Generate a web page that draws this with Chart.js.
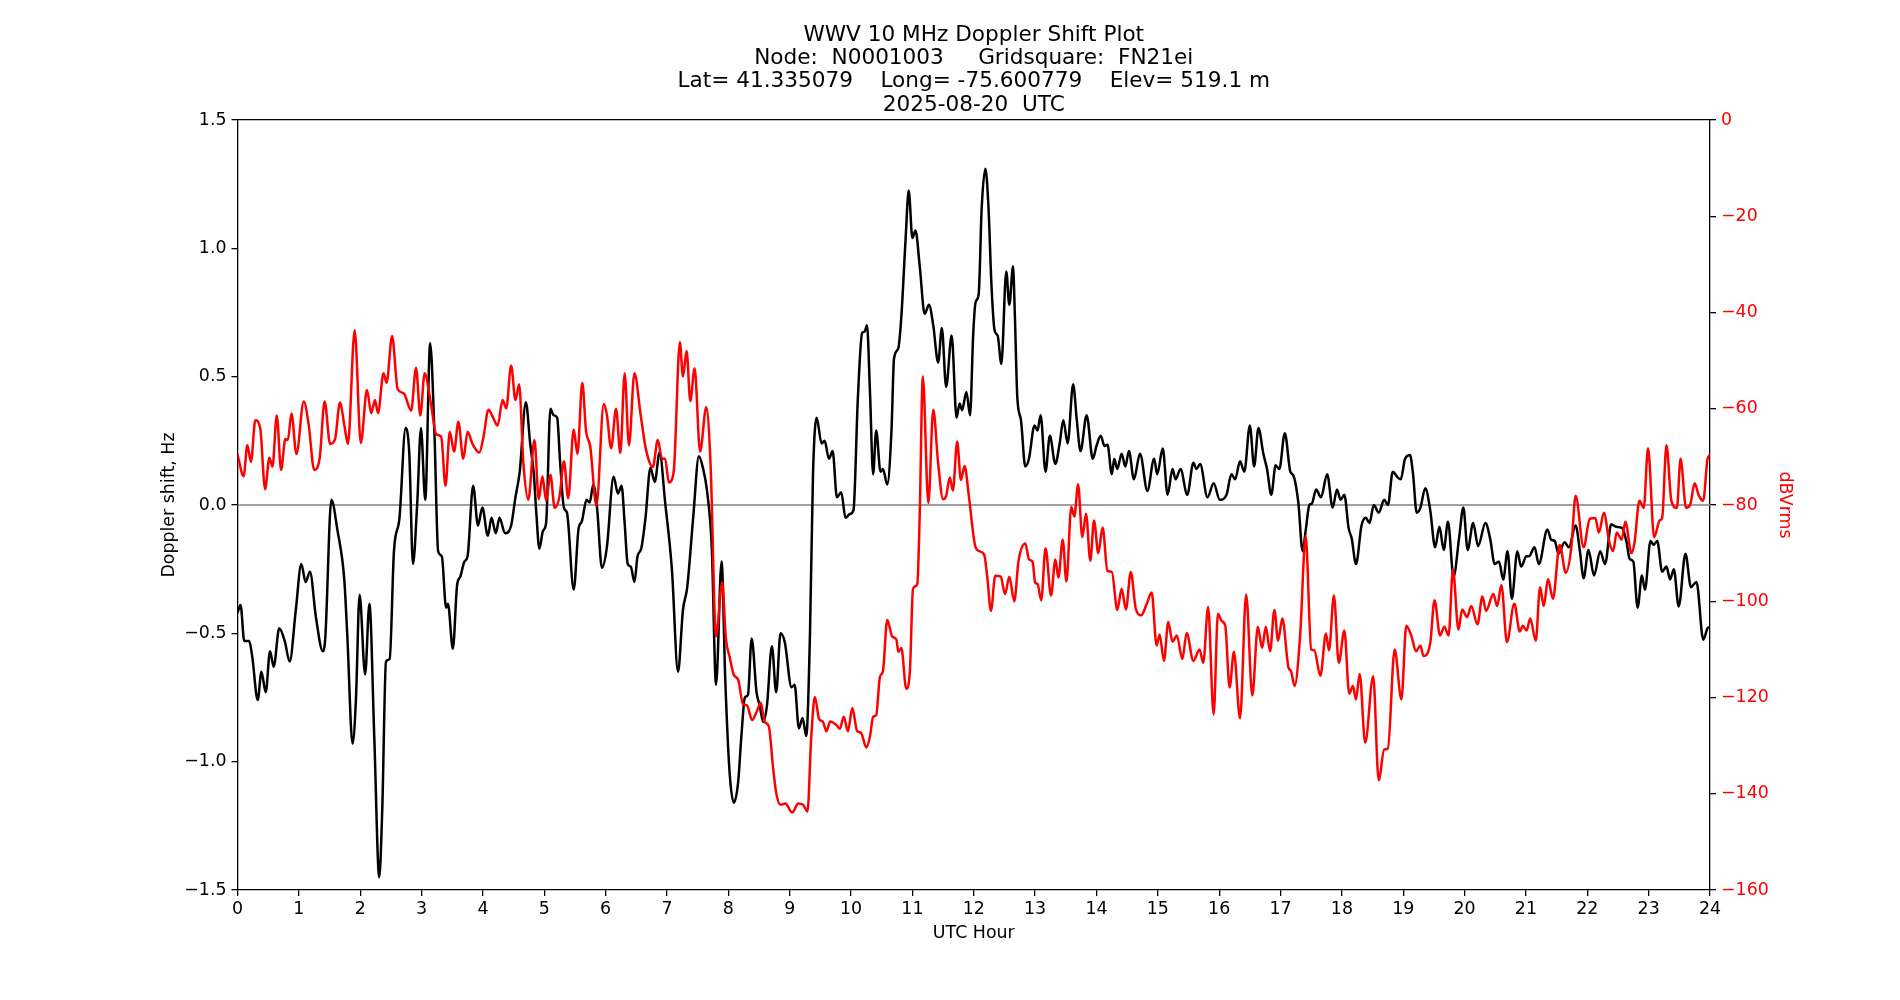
<!DOCTYPE html>
<html>
<head>
<meta charset="utf-8">
<title>WWV 10 MHz Doppler Shift Plot</title>
<script src="https://cdn.jsdelivr.net/npm/chart.js@4.4.1/dist/chart.umd.min.js"></script>
<style>
  html, body { margin: 0; padding: 0; background: #fff; }
  canvas { display: block; }
</style>
</head>
<body>
<canvas id="chart" width="1900" height="1000"></canvas>
<script>
const titleLines = [
  "WWV 10 MHz Doppler Shift Plot",
  "Node:  N0001003     Gridsquare:  FN21ei",
  "Lat= 41.335079    Long= -75.600779    Elev= 519.1 m",
  "2025-08-20  UTC"
];

// Doppler shift (Hz)
const dopplerHours = [
  0.00, 0.05, 0.11, 0.19, 0.24, 0.33, 0.39, 0.46, 0.53, 0.59, 0.68, 0.77, 0.85, 0.95, 1.04, 1.11, 1.18, 1.28, 1.39, 1.43,
  1.53, 1.63, 1.74, 1.79, 1.875, 1.93, 1.99, 2.08, 2.15, 2.23, 2.31, 2.36, 2.42, 2.48, 2.55, 2.64, 2.74, 2.80, 2.86, 2.93,
  2.99, 3.06, 3.14, 3.21, 3.27, 3.33, 3.40, 3.43, 3.51, 3.58, 3.63, 3.70, 3.75, 3.84, 3.92, 3.99, 4.08, 4.14, 4.21, 4.27,
  4.36, 4.46, 4.53, 4.60, 4.70, 4.77, 4.83, 4.87, 4.92, 4.98, 5.03, 5.10, 5.15, 5.21, 5.26, 5.32, 5.37, 5.48, 5.56, 5.61,
  5.69, 5.74, 5.80, 5.86, 5.94, 6.02, 6.13, 6.20, 6.26, 6.31, 6.36, 6.41, 6.47, 6.52, 6.58, 6.65, 6.73, 6.80, 6.88, 6.97,
  7.08, 7.18, 7.26, 7.33, 7.43, 7.52, 7.59, 7.65, 7.73, 7.80, 7.89, 7.95, 8.02, 8.09, 8.16, 8.21, 8.27, 8.32, 8.38, 8.46,
  8.51, 8.57, 8.63, 8.71, 8.78, 8.85, 8.92, 9.03, 9.08, 9.15, 9.21, 9.27, 9.33, 9.38, 9.44, 9.52, 9.57, 9.64, 9.70, 9.77,
  9.84, 9.91, 9.98, 10.04, 10.11, 10.18, 10.22, 10.26, 10.31, 10.36, 10.41, 10.48, 10.52, 10.59, 10.66, 10.70, 10.77, 10.82, 10.89, 10.94,
  11.00, 11.05, 11.12, 11.20, 11.27, 11.34, 11.42, 11.48, 11.55, 11.64, 11.72, 11.77, 11.81, 11.88, 11.94, 11.99, 12.03, 12.08, 12.13, 12.19,
  12.24, 12.29, 12.34, 12.39, 12.45, 12.53, 12.58, 12.64, 12.67, 12.71, 12.77, 12.84, 12.90, 12.99, 13.04, 13.09, 13.17, 13.24, 13.33, 13.40,
  13.46, 13.53, 13.62, 13.68, 13.74, 13.84, 13.94, 14.00, 14.07, 14.13, 14.18, 14.25, 14.29, 14.34, 14.41, 14.47, 14.53, 14.61, 14.71, 14.83,
  14.94, 14.99, 15.08, 15.16, 15.24, 15.29, 15.37, 15.48, 15.58, 15.63, 15.69, 15.81, 15.91, 16.01, 16.12, 16.20, 16.26, 16.34, 16.41, 16.50,
  16.57, 16.64, 16.72, 16.78, 16.85, 16.92, 16.98, 17.07, 17.16, 17.21, 17.29, 17.36, 17.41, 17.47, 17.51, 17.58, 17.66, 17.76, 17.85, 17.92,
  17.98, 18.04, 18.11, 18.16, 18.23, 18.32, 18.39, 18.45, 18.52, 18.60, 18.69, 18.75, 18.83, 18.90, 18.96, 19.03, 19.11, 19.16, 19.22, 19.28,
  19.36, 19.44, 19.52, 19.59, 19.66, 19.73, 19.82, 19.91, 19.98, 20.05, 20.14, 20.22, 20.34, 20.42, 20.49, 20.56, 20.63, 20.70, 20.77, 20.86,
  20.92, 21.01, 21.05, 21.14, 21.21, 21.35, 21.41, 21.47, 21.53, 21.63, 21.70, 21.81, 21.88, 21.94, 22.02, 22.11, 22.21, 22.29, 22.39, 22.47,
  22.57, 22.64, 22.69, 22.75, 22.82, 22.89, 22.94, 23.03, 23.08, 23.14, 23.22, 23.29, 23.35, 23.41, 23.49, 23.60, 23.69, 23.78, 23.89, 23.96,
  24.00
];
const dopplerHz = [
  -0.42, -0.39, -0.53, -0.53, -0.59, -0.76, -0.65, -0.73, -0.57, -0.63, -0.48, -0.53, -0.61, -0.41, -0.23, -0.30, -0.26, -0.44, -0.57, -0.52,
  0.02, -0.10, -0.29, -0.51, -0.93, -0.76, -0.35, -0.66, -0.385, -0.91, -1.45, -1.18, -0.61, -0.60, -0.18, -0.05, 0.30, 0.20, -0.23, 0.01,
  0.30, 0.02, 0.63, 0.28, -0.18, -0.20, -0.40, -0.385, -0.56, -0.31, -0.28, -0.22, -0.20, 0.075, -0.08, -0.01, -0.12, -0.05, -0.11, -0.05,
  -0.11, -0.08, 0.03, 0.13, 0.40, 0.24, 0.12, -0.03, -0.17, -0.10, -0.07, 0.375, 0.35, 0.34, 0.16, -0.01, -0.03, -0.33, -0.09, -0.065,
  0.02, 0.01, 0.08, -0.01, -0.245, -0.165, 0.11, 0.045, 0.075, -0.07, -0.23, -0.24, -0.30, -0.20, -0.17, -0.05, 0.145, 0.09, 0.205, 0.01,
  -0.25, -0.65, -0.41, -0.32, -0.04, 0.19, 0.14, 0.06, -0.165, -0.70, -0.22, -0.68, -1.04, -1.16, -1.08, -0.91, -0.75, -0.74, -0.52, -0.73,
  -0.78, -0.845, -0.78, -0.55, -0.73, -0.50, -0.535, -0.71, -0.70, -0.87, -0.83, -0.90, -0.51, 0.12, 0.34, 0.24, 0.25, 0.18, 0.21, 0.03,
  0.05, -0.05, -0.035, -0.02, 0.41, 0.67, 0.675, 0.70, 0.43, 0.12, 0.29, 0.13, 0.14, 0.08, 0.295, 0.57, 0.61, 0.735, 1.04, 1.225,
  1.04, 1.07, 0.93, 0.745, 0.78, 0.70, 0.555, 0.69, 0.46, 0.66, 0.34, 0.395, 0.37, 0.44, 0.35, 0.66, 0.79, 0.82, 1.16, 1.31,
  1.16, 0.85, 0.68, 0.66, 0.55, 0.91, 0.78, 0.93, 0.74, 0.42, 0.33, 0.15, 0.18, 0.31, 0.29, 0.35, 0.13, 0.27, 0.16, 0.24,
  0.33, 0.24, 0.47, 0.33, 0.21, 0.35, 0.18, 0.23, 0.27, 0.23, 0.235, 0.12, 0.18, 0.14, 0.20, 0.15, 0.21, 0.10, 0.20, 0.055,
  0.18, 0.12, 0.22, 0.04, 0.14, 0.10, 0.14, 0.04, 0.165, 0.14, 0.16, 0.03, 0.085, 0.02, 0.04, 0.12, 0.10, 0.17, 0.13, 0.31,
  0.15, 0.30, 0.20, 0.14, 0.04, 0.155, 0.14, 0.28, 0.13, 0.115, 0.01, -0.18, -0.10, 0.00, 0.005, 0.06, 0.03, 0.12, -0.01, 0.06,
  0.02, 0.04, -0.09, -0.13, -0.23, -0.08, -0.05, -0.07, 0.00, -0.03, 0.02, 0.00, 0.13, 0.11, 0.10, 0.18, 0.195, 0.12, -0.03, -0.01,
  0.065, -0.02, -0.165, -0.085, -0.175, -0.065, -0.28, -0.13, -0.01, -0.175, -0.07, -0.16, -0.07, -0.135, -0.23, -0.22, -0.29, -0.18, -0.365, -0.18,
  -0.24, -0.20, -0.20, -0.165, -0.23, -0.095, -0.135, -0.14, -0.19, -0.145, -0.165, -0.08, -0.18, -0.285, -0.175, -0.275, -0.18, -0.23, -0.075, -0.085,
  -0.09, -0.145, -0.21, -0.22, -0.40, -0.275, -0.33, -0.14, -0.155, -0.14, -0.26, -0.24, -0.29, -0.25, -0.395, -0.19, -0.32, -0.30, -0.525, -0.48,
  -0.475
];

// Signal level (dBVrms)
const powerHours = [
  0.00, 0.10, 0.16, 0.22, 0.29, 0.37, 0.45, 0.52, 0.57, 0.64, 0.71, 0.78, 0.82, 0.88, 0.96, 1.08, 1.16, 1.25, 1.34, 1.42,
  1.51, 1.59, 1.67, 1.74, 1.80, 1.91, 2.01, 2.11, 2.18, 2.24, 2.29, 2.38, 2.43, 2.52, 2.61, 2.71, 2.83, 2.91, 2.98, 3.05,
  3.15, 3.24, 3.32, 3.39, 3.46, 3.53, 3.60, 3.68, 3.75, 3.83, 3.94, 4.01, 4.09, 4.16, 4.24, 4.32, 4.38, 4.46, 4.53, 4.59,
  4.66, 4.74, 4.84, 4.91, 4.97, 5.03, 5.10, 5.17, 5.25, 5.32, 5.39, 5.48, 5.54, 5.62, 5.68, 5.75, 5.85, 5.97, 6.02, 6.09,
  6.17, 6.24, 6.31, 6.38, 6.47, 6.57, 6.66, 6.77, 6.85, 6.92, 6.97, 7.03, 7.11, 7.21, 7.26, 7.32, 7.38, 7.45, 7.54, 7.64,
  7.71, 7.80, 7.90, 7.96, 8.02, 8.09, 8.16, 8.24, 8.30, 8.39, 8.46, 8.53, 8.59, 8.66, 8.73, 8.78, 8.85, 8.93, 9.04, 9.14,
  9.22, 9.29, 9.35, 9.41, 9.48, 9.54, 9.60, 9.66, 9.76, 9.82, 9.88, 9.95, 10.02, 10.10, 10.16, 10.25, 10.31, 10.36, 10.41, 10.47,
  10.52, 10.59, 10.67, 10.74, 10.77, 10.82, 10.90, 10.96, 11.01, 11.08, 11.12, 11.17, 11.26, 11.34, 11.42, 11.50, 11.55, 11.61, 11.66, 11.73,
  11.79, 11.85, 11.92, 12.02, 12.09, 12.17, 12.22, 12.28, 12.35, 12.44, 12.51, 12.58, 12.66, 12.73, 12.84, 12.90, 12.96, 13.00, 13.04, 13.10,
  13.17, 13.26, 13.33, 13.38, 13.45, 13.51, 13.59, 13.64, 13.70, 13.77, 13.83, 13.90, 13.96, 14.03, 14.10, 14.18, 14.25, 14.34, 14.41, 14.48,
  14.56, 14.64, 14.73, 14.82, 14.90, 14.98, 15.03, 15.10, 15.17, 15.24, 15.31, 15.40, 15.47, 15.58, 15.68, 15.74, 15.82, 15.91, 15.98, 16.04,
  16.10, 16.17, 16.24, 16.34, 16.44, 16.54, 16.63, 16.70, 16.76, 16.83, 16.90, 16.96, 17.03, 17.13, 17.17, 17.23, 17.32, 17.41, 17.50, 17.55,
  17.65, 17.74, 17.79, 17.87, 17.95, 18.04, 18.12, 18.18, 18.23, 18.29, 18.38, 18.51, 18.60, 18.69, 18.75, 18.86, 18.97, 19.05, 19.13, 19.21,
  19.28, 19.33, 19.44, 19.51, 19.60, 19.67, 19.74, 19.81, 19.90, 19.96, 20.04, 20.11, 20.21, 20.29, 20.35, 20.47, 20.53, 20.60, 20.69, 20.81,
  20.90, 20.95, 21.01, 21.07, 21.16, 21.23, 21.29, 21.36, 21.44, 21.55, 21.65, 21.74, 21.81, 21.94, 22.04, 22.13, 22.19, 22.27, 22.36, 22.42,
  22.48, 22.56, 22.62, 22.72, 22.77, 22.85, 22.92, 22.99, 23.09, 23.18, 23.22, 23.29, 23.37, 23.46, 23.52, 23.61, 23.68, 23.75, 23.82, 23.89,
  23.96, 24.00
];
const powerDb = [
  -69.5, -74, -67.6, -71, -62.4, -64, -76.7, -70.2, -72, -61.4, -72.7, -66.3, -66.5, -61, -69.4, -58.5, -63.3, -72.7, -70.2, -58.5,
  -67.3, -66.3, -58.7, -63.3, -67.3, -43.7, -67.1, -56.1, -60.9, -58.2, -60.9, -52.6, -54.6, -44.9, -55.9, -56.8, -60.4, -51.5, -61.4, -52.6,
  -58.7, -65.3, -65.8, -76, -64.8, -68.9, -62.7, -70.4, -64.8, -67.3, -69.1, -65.8, -60.2, -61.7, -63.5, -58.2, -59.9, -51, -58.2, -54.9,
  -71.4, -78.9, -66.5, -78.8, -74, -79.1, -73.7, -80.6, -78.1, -70.9, -78.6, -64.3, -69.4, -54.6, -64.5, -67.9, -80.1, -59, -61.2, -68.2,
  -60, -69.2, -52.6, -67.6, -52.6, -61.2, -68.6, -72.1, -66.5, -70.4, -70.4, -75.3, -73, -46.2, -53.3, -48, -58.4, -51.6, -68.9, -59.7,
  -71.4, -107.3, -96.1, -107.7, -111.5, -115.3, -116.3, -121.4, -121.6, -124.7, -123, -121.1, -125, -126, -134.7, -139.8, -142.3, -142, -143.9, -142,
  -142.3, -143.7, -128.6, -119.9, -124.5, -125, -127, -125, -125.7, -126.5, -124, -127, -122.2, -127, -127.3, -130.4, -128, -124, -123.7, -115.8,
  -114.5, -103.9, -107.3, -108, -110.5, -109.7, -118.2, -114.3, -97.4, -96.4, -81.6, -53.3, -79.6, -60.2, -71.4, -78.8, -78.1, -74.3, -77, -66.8,
  -74.8, -71.9, -78.1, -88.3, -89.6, -90.3, -94.9, -102, -94.7, -94.9, -98.5, -94.9, -100, -91.6, -88, -91.3, -91.8, -96.1, -96.4, -99.8,
  -89, -98.8, -91.3, -95.1, -87.2, -95.9, -80.4, -82.4, -75.7, -86.7, -81.8, -91.6, -83.2, -90, -84.7, -93.7, -93.9, -101.8, -97.4, -101.7,
  -93.9, -101.5, -102.9, -100.5, -98.2, -109.2, -106.9, -112.4, -104.3, -108.4, -107.1, -112, -106.6, -112.4, -110, -112.8, -101.2, -123.5, -102.6, -104.1,
  -105.1, -117.9, -110.5, -124.3, -98.6, -119.6, -105.3, -109.7, -105.3, -110.4, -101.8, -108.2, -103.6, -113.8, -114.5, -117.6, -107.1, -86.5, -110, -110.2,
  -115.5, -106.7, -110.2, -98.8, -112.8, -106.1, -119.2, -117.6, -120.4, -115.1, -129.4, -115.6, -137.2, -130.8, -130.6, -110, -120.4, -105.1, -107.1, -110.4,
  -109.2, -111.4, -108.7, -99.8, -107.1, -105.3, -107.1, -93.4, -105.9, -101.7, -103.3, -101, -104.8, -99, -102, -98.5, -101, -96.6, -108.5, -100.5,
  -106.3, -105.1, -106.1, -103.6, -108.2, -97.1, -101, -95.4, -99.5, -88.3, -94.1, -88.8, -78.1, -88.8, -82.9, -82.7, -85.7, -81.6, -87.8, -89.6,
  -85.7, -87.2, -83.5, -90, -87.8, -79.1, -80.6, -68.2, -86.7, -83.2, -82.7, -67.6, -79.1, -80.6, -70.4, -80.6, -79.8, -75.5, -78.1, -79.1,
  -70.4, -69.6
];

// zero reference line on the Doppler axis
const zeroHours = [0, 24];
const zeroHz = [0, 0];

const toPoints = (xs, ys) => xs.map((x, i) => ({ x: x, y: ys[i] }));
const minusSign = (s) => String(s).replace("-", "\u2212");

Chart.defaults.font.family = "'DejaVu Sans', sans-serif";
Chart.defaults.font.size = 17.4;
Chart.defaults.color = "#000";

const axisGrid = { drawOnChartArea: false, tickLength: 6, color: "#000", lineWidth: 1.3 };
const axisBorder = { color: "#000", width: 1.3 };

const ctx = document.getElementById("chart").getContext("2d");

new Chart(ctx, {
  type: "line",
  data: {
    datasets: [
      {
        label: "dBVrms",
        yAxisID: "y2",
        data: toPoints(powerHours, powerDb),
        borderColor: "#ff0000",
        borderWidth: 2.5,
        pointRadius: 0,
        cubicInterpolationMode: "monotone",
        order: 0
      },
      {
        label: "Doppler shift",
        yAxisID: "y",
        data: toPoints(dopplerHours, dopplerHz),
        borderColor: "#000000",
        borderWidth: 2.5,
        pointRadius: 0,
        cubicInterpolationMode: "monotone",
        order: 1
      },
      {
        label: "zero",
        yAxisID: "y",
        data: toPoints(zeroHours, zeroHz),
        borderColor: "#808080",
        borderWidth: 1.4,
        pointRadius: 0,
        order: 2
      }
    ]
  },
  options: {
    responsive: false,
    animation: false,
    devicePixelRatio: 1,
    // left padding keeps the title centred over the plot area, like matplotlib
    layout: { padding: { left: 47.5, right: 0, top: 0, bottom: 0 } },
    plugins: {
      legend: { display: false },
      tooltip: { enabled: false },
      title: {
        display: true,
        text: titleLines,
        color: "#000",
        font: { size: 21.6, weight: "normal", lineHeight: 1.08 },
        padding: { top: 23.5, bottom: 3.2 }
      }
    },
    scales: {
      x: {
        type: "linear",
        position: "bottom",
        min: 0,
        max: 24,
        ticks: { stepSize: 1, autoSkip: false, maxRotation: 0, padding: 3 },
        grid: axisGrid,
        border: axisBorder,
        title: { display: true, text: "UTC Hour", padding: { top: 0, bottom: 56 } },
        afterFit: (scale) => { scale.height = 110; }
      },
      xTop: {
        type: "linear",
        position: "top",
        min: 0,
        max: 24,
        ticks: { display: false },
        grid: { drawOnChartArea: false, drawTicks: false },
        border: axisBorder,
        afterFit: (scale) => { scale.height = 0; }
      },
      y: {
        position: "left",
        min: -1.5,
        max: 1.5,
        ticks: { stepSize: 0.5, padding: 5, callback: (v) => minusSign(v.toFixed(1)) },
        grid: axisGrid,
        border: axisBorder,
        title: { display: true, text: "Doppler shift, Hz", padding: { top: 111.5, bottom: 0 } },
        afterFit: (scale) => { scale.width = 190; }
      },
      y2: {
        position: "right",
        min: -160,
        max: 0,
        ticks: { stepSize: 20, padding: 5, color: "#ff0000", callback: (v) => minusSign(v) },
        grid: axisGrid,
        border: axisBorder,
        title: { display: true, text: "dBVrms", color: "#ff0000", padding: { top: 105.5, bottom: 0 } },
        afterFit: (scale) => { scale.width = 190; }
      }
    }
  }
});
</script>
</body>
</html>
